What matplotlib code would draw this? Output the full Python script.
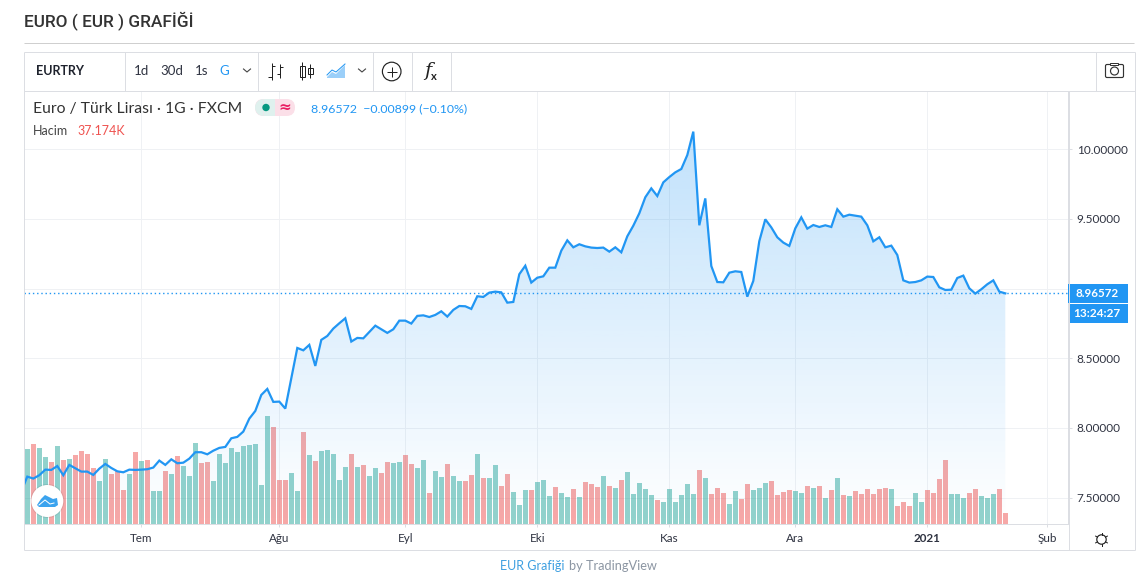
import numpy as np
import matplotlib
matplotlib.use("Agg")
import matplotlib.pyplot as plt
from matplotlib.patches import Circle, Rectangle, Polygon, FancyBboxPatch, Wedge

plt.rcParams["font.family"] = ["Lato", "DejaVu Sans"]

# closing prices, first one sits just left of the visible area
prices = [
    7.546, 7.651, 7.637, 7.661, 7.701, 7.699, 7.727, 7.661, 7.735, 7.711, 7.687, 7.687,
    7.663, 7.708, 7.742, 7.713, 7.689, 7.682, 7.701, 7.699, 7.701, 7.704, 7.716, 7.766,
    7.735, 7.775, 7.747, 7.751, 7.780, 7.826, 7.826, 7.811, 7.837, 7.857, 7.864, 7.926,
    7.936, 7.974, 8.067, 8.122, 8.237, 8.280, 8.187, 8.189, 8.139, 8.356, 8.574, 8.557,
    8.596, 8.445, 8.632, 8.660, 8.713, 8.751, 8.787, 8.620, 8.646, 8.643, 8.689, 8.734,
    8.708, 8.682, 8.708, 8.770, 8.770, 8.749, 8.804, 8.808, 8.796, 8.811, 8.837, 8.799,
    8.847, 8.875, 8.873, 8.854, 8.945, 8.940, 8.971, 8.978, 8.973, 8.899, 8.904, 9.103,
    9.164, 9.043, 9.078, 9.088, 9.150, 9.150, 9.272, 9.346, 9.296, 9.318, 9.303, 9.294,
    9.291, 9.294, 9.265, 9.296, 9.260, 9.375, 9.451, 9.540, 9.655, 9.719, 9.664, 9.762,
    9.800, 9.834, 9.858, 9.958, 10.126, 9.454, 9.647, 9.162, 9.047, 9.045, 9.114, 9.124,
    9.119, 8.942, 9.055, 9.340, 9.497, 9.439, 9.368, 9.330, 9.306, 9.432, 9.511, 9.430,
    9.456, 9.442, 9.454, 9.442, 9.569, 9.516, 9.530, 9.523, 9.516, 9.454, 9.339, 9.368,
    9.296, 9.308, 9.241, 9.059, 9.043, 9.047, 9.059, 9.086, 9.083, 9.009, 8.990, 8.992,
    9.076, 9.093, 9.002, 8.964, 8.995, 9.031, 9.059, 8.978, 8.96572,
]

# volume in relative units, last bar is the 37.174K one
volumes = [
    225, 240, 228, 201, 186, 234, 192, 195, 207, 219, 210, 168, 129, 195, 150, 159, 102, 150, 216, 189,
    192, 99, 99, 159, 150, 204, 174, 144, 243, 183, 186, 129, 210, 183, 228, 216, 234, 237, 240, 117,
    324, 291, 132, 132, 153, 99, 276, 207, 189, 219, 222, 210, 132, 171, 210, 171, 177, 144, 168, 153,
    186, 183, 186, 207, 180, 168, 192, 93, 159, 141, 180, 144, 129, 129, 147, 210, 138, 138, 177, 114,
    150, 96, 57, 102, 102, 126, 132, 84, 111, 93, 81, 105, 81, 126, 120, 111, 144, 114, 108, 132,
    156, 90, 123, 105, 87, 72, 66, 105, 66, 87, 120, 90, 162, 138, 90, 108, 93, 60, 99, 75,
    120, 102, 108, 123, 129, 87, 96, 102, 99, 93, 114, 108, 114, 78, 102, 138, 87, 84, 99, 90,
    105, 90, 105, 108, 105, 54, 66, 54, 93, 66, 102, 93, 135, 192, 90, 90, 78, 93, 105, 84,
    78, 90, 105, 33,
]

# g = up bar, r = down bar
bar_colors = list(
    "grggrgrgrr" "rrggrrrgrg" "rggrgrgggr" "rggggggggg"
    "grrrggrgrg" "ggggrgrggr" "rggrrggrgg" "rggrrgrggr"
    "rgggrgggrg" "grgrrrgrgr" "gggggrgggg" "ggrgrrrggr"
    "rgggrrrrgg" "rgrgrgrgrr" "rrrrgrrrgg" "rrrrgggrrg"
    "ggrr"
)

month_idx = [19, 42, 63, 85, 107, 128, 150, 170]
month_labels = ["Tem", "Ağu", "Eyl", "Eki", "Kas", "Ara", "2021", "Şub"]
price_ticks = [7.5, 8.0, 8.5, 9.0, 9.5, 10.0]
hidden_tick_labels = [9.0]

BLUE = "#2196f3"
TEAL = "#26a69a"
RED = "#ef5350"
BORDER = "#dcdee3"
GRID = "#eff1f4"
TEXT = "#2f3341"
PX = 0.72  # one pixel in points at dpi 100

fig = plt.figure(figsize=(11.43, 5.82), dpi=100, facecolor="white")
ax_pos = [24 / 1143, (582 - 524) / 582, (1068 - 24) / 1143, (524 - 91) / 582]

# price axis carries ticks and grid, bars and line sit on twins above it
ax = fig.add_axes(ax_pos)
ax.set_zorder(1)
ax.set_ylim(7.311, 10.4175)

x_bars = np.arange(len(volumes))
ax_vol = ax.twinx()
ax_vol.set_zorder(2)
ax_vol.patch.set_visible(False)
ax_vol.bar(x_bars, volumes, width=0.83,
           color=[TEAL if c == "g" else RED for c in bar_colors], alpha=0.5, linewidth=0)
ax_vol.set_ylim(0, 1299)
ax_vol.set_axis_off()

x_line = np.arange(-1, len(prices) - 1)
ax_line = ax.twinx()
ax_line.set_zorder(3)
ax_line.patch.set_visible(False)
ax_line.set_axis_off()

# area under the line, blue fading to nothing at the bottom
poly = ax_line.fill_between(x_line, prices, 7.311, color="none", linewidth=0)
grad = np.zeros((256, 1, 4))
grad[:, 0, :3] = matplotlib.colors.to_rgb(BLUE)
grad[:, 0, 3] = np.linspace(0.28, 0.0, 256)
img = ax_line.imshow(grad, extent=[-1, 163, 7.311, max(prices)], aspect="auto", zorder=1, origin="upper")
img.set_clip_path(poly.get_paths()[0], transform=ax_line.transData)

ax_line.axhline(prices[-1], color=BLUE, linewidth=1.4 * PX, linestyle=(0, (1, 2)), zorder=2)
ax_line.plot(x_line, prices, color=BLUE, linewidth=1.6, solid_joinstyle="miter", zorder=3)
ax_line.set_ylim(ax.get_ylim())
ax.set_xlim(-0.55, 173.45)
ax_line.set_xlim(-0.55, 173.45)

# twinx moves the ticks, so the price ticks are set up last
ax.yaxis.tick_right()
ax.set_yticks(price_ticks)
ax.set_yticklabels(["" if p in hidden_tick_labels else f"{p:.5f}" for p in price_ticks])
ax.set_xticks(month_idx)
ax.set_xticklabels(month_labels)
ax.get_xticklabels()[6].set_fontweight("bold")
ax.tick_params(axis="y", length=3, width=PX, color=BORDER, labelsize=8.5, labelcolor=TEXT, pad=3.2)
ax.tick_params(axis="x", length=2.5, width=PX, color=BORDER, labelsize=8.4, labelcolor=TEXT, pad=4)
ax.grid(True, color=GRID, linewidth=PX)
ax.set_axisbelow(True)
for name, spine in ax.spines.items():
    spine.set_color(BORDER)
    spine.set_linewidth(PX)
    spine.set_visible(name in ("bottom", "right"))

# everything around the chart, in screen pixels
ov = fig.add_axes([0, 0, 1, 1], zorder=10)
ov.set_xlim(0, 1143)
ov.set_ylim(582, 0)
ov.axis("off")
ov.patch.set_visible(False)

def hline(x0, x1, y, color=BORDER, lw=PX):
    ov.plot([x0, x1], [y, y], color=color, linewidth=lw, solid_capstyle="butt")

def vline(x, y0, y1, color=BORDER, lw=PX):
    ov.plot([x, x], [y0, y1], color=color, linewidth=lw, solid_capstyle="butt")

def label(x, y, s, size=9, color=TEXT, ha="left", weight="normal", **kw):
    return ov.text(x, y, s, fontsize=size, color=color, ha=ha, va="center", fontweight=weight, **kw)

# title
label(24, 21, "EURO ( EUR ) GRAFİĞİ", size=12.4, color="#333333", weight="medium", family=["Roboto", "DejaVu Sans"])
hline(24, 1134, 42.5, color="#cfcfcf")

# widget frame
hline(23.5, 1134.5, 52)
hline(23.5, 1134.5, 549.5)
vline(23.5, 52, 550)
vline(1134.5, 52, 550)
hline(23.5, 1134.5, 91)
vline(1068.5, 91, 550)
for x in (124.5, 257.5, 372.5, 411.5, 450.5, 1095.5):
    vline(x, 52, 91)

# toolbar
label(36, 71, "EURTRY", size=9, color="#1e222d", weight="bold")
for x, s, c in [(134, "1d", TEXT), (160, "30d", TEXT), (195, "1s", TEXT), (219, "G", BLUE)]:
    label(x, 71, s, size=9.5, color=c)

def chevron(x, y):
    ov.plot([x - 3.5, x, x + 3.5], [y - 1.5, y + 1.5, y - 1.5], color="#444444", linewidth=0.8)

chevron(247, 70.5)
chevron(362, 70.5)

DARK = "#222222"
# bars icon
vline(272, 63, 80, color=DARK)
hline(268, 272, 77, color=DARK)
hline(272, 275, 66, color=DARK)
vline(280, 64, 78, color=DARK)
hline(277, 280, 74, color=DARK)
hline(280, 283, 67, color=DARK)
# candles icon
vline(302, 62, 80, color=DARK)
ov.add_patch(Rectangle((299.5, 65.5), 5, 11, fc="white", ec=DARK, lw=PX))
vline(310, 64, 78, color=DARK)
ov.add_patch(Rectangle((307.5, 67.5), 5, 6, fc="white", ec=DARK, lw=PX))
# area icon
ov.add_patch(Polygon([(327, 77), (332, 72), (336, 74), (345, 65), (345, 78), (327, 78)],
                     fc=BLUE, alpha=0.45, ec="none"))
ov.plot([327, 332, 336, 345], [75, 70, 72, 64], color=BLUE, linewidth=PX)
# add indicator / fx
ov.add_patch(Circle((391.7, 71.5), 9.3, fc="white", ec=DARK, lw=0.85))
hline(386.5, 397, 71.5, color=DARK)
vline(391.7, 66.5, 76.5, color=DARK)
label(424, 71, "f", size=14, color=DARK, family=["DejaVu Serif"], style="italic")
label(431, 76, "x", size=8, color=DARK, weight="bold")
# camera
ov.add_patch(FancyBboxPatch((1105.5, 64.5), 18, 13, boxstyle="round,pad=0,rounding_size=1.5",
                            fc="white", ec="#333333", lw=0.85))
ov.add_patch(Rectangle((1110, 62.5), 8, 2, fc="white", ec="#333333", lw=PX))
ov.add_patch(Circle((1114.5, 71), 4, fc="white", ec="#333333", lw=0.85))

# legend
label(33, 108.5, "Euro / Türk Lirası · 1G · FXCM", size=11.3, color="#333333")
ov.add_patch(FancyBboxPatch((255, 99), 40, 17, boxstyle="round,pad=0,rounding_size=8.5",
                            fc="#fbdfe8", ec="none"))
ov.add_patch(Wedge((263.5, 107.5), 8.5, 90, 270, fc="#dff1ee", ec="none"))
ov.add_patch(Rectangle((263.5, 99), 11.5, 17, fc="#dff1ee", ec="none"))
ov.add_patch(Circle((266, 107.5), 3.7, fc="#089981", ec="none"))
label(284.5, 107, "≈", size=11, color="#e91e63", ha="center", weight="bold", family=["DejaVu Sans"])
label(311, 108.5, "8.96572  −0.00899 (−0.10%)", size=8.9, color=BLUE)
label(33, 131, "Hacim", size=9, color="#444444")
label(77, 131, "37.174K", size=9, color=RED)

# last price tags
ov.add_patch(Rectangle((1068, 284), 60, 19, fc=BLUE, ec="none"))
ov.add_patch(Rectangle((1069, 304), 59, 19, fc=BLUE, ec="none"))
label(1119, 293.5, "8.96572", size=8.4, color="white", ha="right", weight="bold")
label(1120, 313.5, "13:24:27", size=8.6, color="white", ha="right", weight="bold")

# logo
ov.add_patch(Circle((47.3, 501), 17, fc="#000000", alpha=0.08, ec="none"))
ov.add_patch(Circle((47.3, 501), 16, fc="white", ec="none"))
ov.add_patch(Polygon([(37, 505), (41, 499), (45, 495), (49, 497), (53, 499), (57, 498), (58, 505), (55, 507), (39, 507)],
                     fc="#3ba3ee", ec="none"))
ov.plot([39, 45, 50, 54], [505, 500, 504, 503], color="white", linewidth=PX)

# settings gear
ov.add_patch(Circle((1101.5, 539.5), 4.7, fc="white", ec=DARK, lw=0.85))
for a in np.arange(0, 360, 60) + 30:
    dx, dy = np.cos(np.radians(a)), np.sin(np.radians(a))
    ov.plot([1101.5 + 4.7 * dx, 1101.5 + 6.8 * dx], [539.5 + 4.7 * dy, 539.5 + 6.8 * dy],
            color=DARK, linewidth=PX)

# footer
label(500, 566, "EUR Grafiği", size=9, color="#3e9fe0")
label(569, 566, "by TradingView", size=9.2, color="#8c96a3")

fig.savefig("out.png", dpi=100)
